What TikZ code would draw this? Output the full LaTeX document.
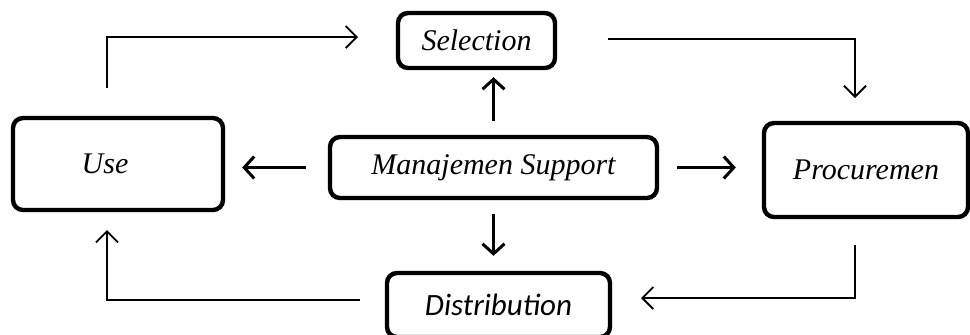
\documentclass[tikz,border=0pt]{standalone}
\usepackage{fontspec}
\setmainfont{Liberation Serif}
\newfontfamily\calibri{Carlito}
\usetikzlibrary{arrows.meta, positioning, calc}

\begin{document}
\begin{tikzpicture}[x=0.5pt, y=-0.5pt, thick, >=Straight Barb]

		% Define block styles
		\tikzstyle{block} = [rectangle, draw, line width=2.2pt, rounded corners=5pt, fill=white, text centered, font=\itshape\fontsize{15}{18}\selectfont]
		\tikzstyle{bigarrow} = [line width=1.5pt, {-Straight Barb[length=5pt, width=11pt]}]
		\tikzstyle{loop} = [line width=0.9pt, {-Straight Barb[length=5.5pt, width=11pt]}]

		\useasboundingbox (0,0) rectangle (970,334);

		% Nodes
		\node[block, minimum width=78.5pt, minimum height=27.5pt] (sel) at (476.5,40.5) {Selection};
		\node[block, minimum width=105pt, minimum height=46pt] (use) at (118,164) {Use\hspace*{13pt}};
		\node[block, minimum width=163.5pt, minimum height=30.5pt] (ms) at (493.5,167.5) {Manajemen Support};
		\node[block, minimum width=102pt, minimum height=47pt] (proc) at (866,170) {Procuremen};
		\node[block, minimum width=111.5pt, minimum height=32pt, font=\calibri\itshape\fontsize{15.5}{18}\selectfont] (dist) at (498.5,305) {Distribution};

		% Loop ends
		\coordinate (useup) at (107,88);
		\coordinate (seltip) at (358,37);
		\coordinate (selout) at (608,39);
		\coordinate (proctip) at (855,98);
		\coordinate (procdown) at (855,245);
		\coordinate (disttip) at (641,298);
		\coordinate (distout) at (360,300);
		\coordinate (usetip) at (107,230);

		% Arrows
		\draw[bigarrow, shorten <=7pt, shorten >=3.5pt] (ms.north) -- (ms.north |- sel.south);
		\draw[bigarrow, shorten <=7pt, shorten >=7.5pt] (ms.south) -- (ms.south |- dist.north);
		\draw[bigarrow, shorten <=11pt, shorten >=8.5pt] (ms.west) -- (ms.west -| use.east);
		\draw[bigarrow, shorten <=9pt, shorten >=13pt] (ms.east) -- (ms.east -| proc.west);

		\draw[loop] (useup) |- (seltip);
		\draw[loop] (selout) -| (proctip);
		\draw[loop] (procdown) |- (disttip);
		\draw[loop] (distout) -| (usetip);

	\end{tikzpicture}
\end{document}
